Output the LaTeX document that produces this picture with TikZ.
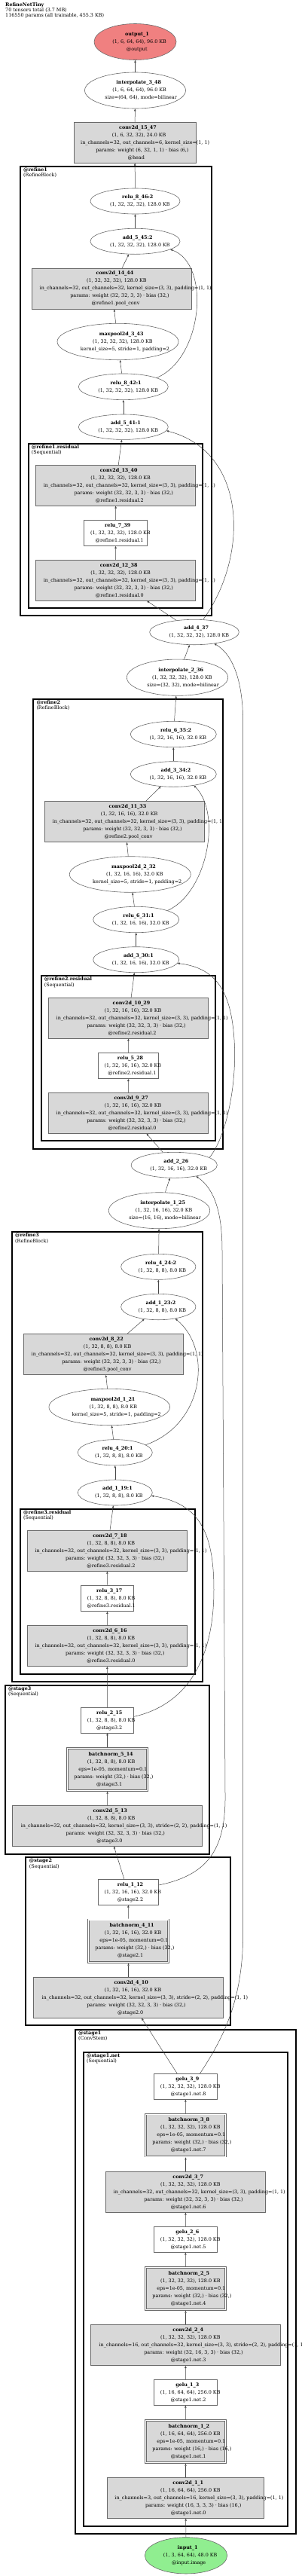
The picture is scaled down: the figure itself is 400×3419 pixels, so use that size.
\documentclass[tikz,border=0pt]{standalone}
\usepackage{fontspec}
\setmainfont{DejaVu Serif}
\usetikzlibrary{arrows.meta,shapes.geometric}
\definecolor{lineg}{RGB}{70,70,70}
\definecolor{boxline}{RGB}{105,105,105}
\definecolor{opfill}{RGB}{216,216,216}
\definecolor{outfill}{RGB}{240,128,128}
\definecolor{infill}{RGB}{144,238,144}
\newcommand{\gvfont}{\fontsize{6.4}{10}\selectfont}
% graphviz sets each line from the left edge it expected, so it runs over to the right
\newcommand{\gv}[1]{\makebox[0.84\width][l]{#1}}
\tikzset{
  oval/.style={ellipse, draw=boxline, fill=white, line width=0.6pt, inner sep=0pt,
              font=\gvfont, align=center},
  opbox/.style={rectangle, draw=boxline, fill=opfill, line width=0.6pt, inner sep=0pt,
              font=\gvfont, align=center},
  actbox/.style={opbox, fill=white},
  normbox/.style={opbox, double=white, double distance=1.2pt, outer sep=1.2pt},
  grp/.style={draw=black, line width=2pt},
  grplabel/.style={anchor=north west, inner sep=0pt, align=left,
              font=\fontsize{6.4}{7.3}\selectfont},
  flow/.style={-{Triangle[length=3pt,width=2.4pt]}, draw=lineg, line width=0.5pt},
}

\begin{document}
\begin{tikzpicture}[x=1pt,y=-1pt]
    \useasboundingbox (0,0) rectangle (400,3419);
    \node[grplabel] (title) at (7,3)
      {\textbf{RefineNetTiny}\\70 tensors total (3.7 MB)\\116550 params (all trainable, 455.3 KB)};

    % module boxes
    \draw[grp] (27,221) rectangle (280.7,817.3);
    \node[grplabel] (lrefine1) at (31,222.5) {\textbf{@refine1}\\(RefineBlock)};
    \draw[grp] (37.7,588.7) rectangle (269.3,807);
    \node[grplabel] (lrefine1res) at (41.7,590.2) {\textbf{@refine1.residual}\\(Sequential)};
    \draw[grp] (43.7,927.7) rectangle (296.3,1524.7);
    \node[grplabel] (lrefine2) at (48.3,929.2) {\textbf{@refine2}\\(RefineBlock)};
    \draw[grp] (54.7,1295.3) rectangle (286.3,1514);
    \node[grplabel] (lrefine2res) at (58.7,1296.8) {\textbf{@refine2.residual}\\(Sequential)};
    \draw[grp] (16,1635.3) rectangle (269,2232.3);
    \node[grplabel] (lrefine3) at (20,1636.8) {\textbf{@refine3}\\(RefineBlock)};
    \draw[grp] (26.7,2002.7) rectangle (258.7,2221.7);
    \node[grplabel] (lrefine3res) at (31,2004.2) {\textbf{@refine3.residual}\\(Sequential)};
    \draw[grp] (6.7,2236.7) rectangle (278.3,2460.7);
    \node[grplabel] (lstage3) at (11,2238.2) {\textbf{@stage3}\\(Sequential)};
    \draw[grp] (34.3,2465.3) rectangle (305.7,2688.3);
    \node[grplabel] (lstage2) at (38.7,2466.8) {\textbf{@stage2}\\(Sequential)};
    \draw[grp] (99.7,2693.7) rectangle (393.3,3363.3);
    \node[grplabel] (lstage1) at (104,2695.2) {\textbf{@stage1}\\(ConvStem)};
    \draw[grp] (111,2723.7) rectangle (382.3,3353);
    \node[grplabel] (lstage1net) at (115,2725.2) {\textbf{@stage1.net}\\(Sequential)};

    % head
    \node[oval, fill=outfill, minimum width=109, minimum height=48] (out) at (179.5,55.5)
      {\gv{\textbf{output\_1}}\\\gv{(1, 6, 64, 64), 96.0 KB}\\\gv{@output}};
    \node[oval, minimum width=134, minimum height=48] (interp48) at (179.5,120)
      {\gv{\textbf{interpolate\_3\_48}}\\\gv{(1, 6, 64, 64), 96.0 KB}\\\gv{size=(64, 64), mode=bilinear}};
    \node[opbox, minimum width=162, minimum height=54] (conv47) at (179,189.3)
      {\gv{\textbf{conv2d\_15\_47}}\\\gv{(1, 6, 32, 32), 24.0 KB}\\\gv{in\_channels=32, out\_channels=6, kernel\_size=(1, 1)}\\\gv{params: weight (6, 32, 1, 1) · bias (6,)}\\\gv{@head}};

    % refine1
    \node[oval, minimum width=119, minimum height=34] (relu46) at (179.5,267)
      {\gv{\textbf{relu\_8\_46:2}}\\\gv{(1, 32, 32, 32), 128.0 KB}};
    \node[oval, minimum width=119, minimum height=34] (add45) at (179.5,320.3)
      {\gv{\textbf{add\_5\_45:2}}\\\gv{(1, 32, 32, 32), 128.0 KB}};
    \node[opbox, minimum width=212.4, minimum height=54] (conv44) at (148.5,383.3)
      {\gv{\textbf{conv2d\_14\_44}}\\\gv{(1, 32, 32, 32), 128.0 KB}\\\gv{in\_channels=32, out\_channels=32, kernel\_size=(3, 3), padding=(1, 1)}\\\gv{params: weight (32, 32, 3, 3) · bias (32,)}\\\gv{@refine1.pool\_conv}};
    \node[oval, minimum width=161, minimum height=48.4] (pool43) at (156.5,453.5)
      {\gv{\textbf{maxpool2d\_3\_43}}\\\gv{(1, 32, 32, 32), 128.0 KB}\\\gv{kernel\_size=5, stride=1, padding=2}};
    \node[oval, minimum width=119, minimum height=34.7] (relu42) at (163.8,513.3)
      {\gv{\textbf{relu\_8\_42:1}}\\\gv{(1, 32, 32, 32), 128.0 KB}};
    \node[oval, minimum width=119, minimum height=33.4] (add41) at (163.8,566.7)
      {\gv{\textbf{add\_5\_41:1}}\\\gv{(1, 32, 32, 32), 128.0 KB}};
    \node[opbox, minimum width=212, minimum height=54] (conv40) at (153.7,644.2)
      {\gv{\textbf{conv2d\_13\_40}}\\\gv{(1, 32, 32, 32), 128.0 KB}\\\gv{in\_channels=32, out\_channels=32, kernel\_size=(3, 3), padding=(1, 1)}\\\gv{params: weight (32, 32, 3, 3) · bias (32,)}\\\gv{@refine1.residual.2}};
    \node[actbox, minimum width=84.4, minimum height=34.4] (relu39) at (153.5,707.3)
      {\gv{\textbf{relu\_7\_39}}\\\gv{(1, 32, 32, 32), 128.0 KB}\\\gv{@refine1.residual.1}};
    \node[opbox, minimum width=212, minimum height=54] (conv38) at (153.7,770.3)
      {\gv{\textbf{conv2d\_12\_38}}\\\gv{(1, 32, 32, 32), 128.0 KB}\\\gv{in\_channels=32, out\_channels=32, kernel\_size=(3, 3), padding=(1, 1)}\\\gv{params: weight (32, 32, 3, 3) · bias (32,)}\\\gv{@refine1.residual.0}};
    \node[oval, minimum width=118.7, minimum height=33.4] (add37) at (258,839)
      {\gv{\textbf{add\_4\_37}}\\\gv{(1, 32, 32, 32), 128.0 KB}};
    \node[oval, minimum width=134.4, minimum height=48.3] (interp36) at (235.5,899.2)
      {\gv{\textbf{interpolate\_2\_36}}\\\gv{(1, 32, 32, 32), 128.0 KB}\\\gv{size=(32, 32), mode=bilinear}};

    % refine2
    \node[oval, minimum width=114, minimum height=34.4] (relu35) at (230.3,974.5)
      {\gv{\textbf{relu\_6\_35:2}}\\\gv{(1, 32, 16, 16), 32.0 KB}};
    \node[oval, minimum width=114, minimum height=33.6] (add34) at (230.3,1027.5)
      {\gv{\textbf{add\_3\_34:2}}\\\gv{(1, 32, 16, 16), 32.0 KB}};
    \node[opbox, minimum width=212.4, minimum height=54] (conv33) at (165.5,1090.7)
      {\gv{\textbf{conv2d\_11\_33}}\\\gv{(1, 32, 16, 16), 32.0 KB}\\\gv{in\_channels=32, out\_channels=32, kernel\_size=(3, 3), padding=(1, 1)}\\\gv{params: weight (32, 32, 3, 3) · bias (32,)}\\\gv{@refine2.pool\_conv}};
    \node[oval, minimum width=161, minimum height=47.6] (pool32) at (172.8,1160.5)
      {\gv{\textbf{maxpool2d\_2\_32}}\\\gv{(1, 32, 16, 16), 32.0 KB}\\\gv{kernel\_size=5, stride=1, padding=2}};
    \node[oval, minimum width=114, minimum height=34.4] (relu31) at (180.7,1220.5)
      {\gv{\textbf{relu\_6\_31:1}}\\\gv{(1, 32, 16, 16), 32.0 KB}};
    \node[oval, minimum width=114, minimum height=34] (add30) at (180.7,1273.7)
      {\gv{\textbf{add\_3\_30:1}}\\\gv{(1, 32, 16, 16), 32.0 KB}};
    \node[opbox, minimum width=212.4, minimum height=54] (conv29) at (170.5,1351.3)
      {\gv{\textbf{conv2d\_10\_29}}\\\gv{(1, 32, 16, 16), 32.0 KB}\\\gv{in\_channels=32, out\_channels=32, kernel\_size=(3, 3), padding=(1, 1)}\\\gv{params: weight (32, 32, 3, 3) · bias (32,)}\\\gv{@refine2.residual.2}};
    \node[actbox, minimum width=80.7, minimum height=34.4] (relu28) at (170.3,1414.5)
      {\gv{\textbf{relu\_5\_28}}\\\gv{(1, 32, 16, 16), 32.0 KB}\\\gv{@refine2.residual.1}};
    \node[opbox, minimum width=212.4, minimum height=54] (conv27) at (170.5,1477.3)
      {\gv{\textbf{conv2d\_9\_27}}\\\gv{(1, 32, 16, 16), 32.0 KB}\\\gv{in\_channels=32, out\_channels=32, kernel\_size=(3, 3), padding=(1, 1)}\\\gv{params: weight (32, 32, 3, 3) · bias (32,)}\\\gv{@refine2.residual.0}};
    \node[oval, minimum width=114.3, minimum height=34] (add26) at (231.2,1546.3)
      {\gv{\textbf{add\_2\_26}}\\\gv{(1, 32, 16, 16), 32.0 KB}};
    \node[oval, minimum width=134.4, minimum height=48] (interp25) at (211.5,1606.7)
      {\gv{\textbf{interpolate\_1\_25}}\\\gv{(1, 32, 16, 16), 32.0 KB}\\\gv{size=(16, 16), mode=bilinear}};

    % refine3
    \node[oval, minimum width=99.3, minimum height=34] (relu24) at (210.3,1681.3)
      {\gv{\textbf{relu\_4\_24:2}}\\\gv{(1, 32, 8, 8), 8.0 KB}};
    \node[oval, minimum width=99.3, minimum height=34.4] (add23) at (210.3,1734.5)
      {\gv{\textbf{add\_1\_23:2}}\\\gv{(1, 32, 8, 8), 8.0 KB}};
    \node[opbox, minimum width=212.4, minimum height=54.4] (conv22) at (137.5,1797.5)
      {\gv{\textbf{conv2d\_8\_22}}\\\gv{(1, 32, 8, 8), 8.0 KB}\\\gv{in\_channels=32, out\_channels=32, kernel\_size=(3, 3), padding=(1, 1)}\\\gv{params: weight (32, 32, 3, 3) · bias (32,)}\\\gv{@refine3.pool\_conv}};
    \node[oval, minimum width=160.7, minimum height=48.4] (pool21) at (145.3,1867.5)
      {\gv{\textbf{maxpool2d\_1\_21}}\\\gv{(1, 32, 8, 8), 8.0 KB}\\\gv{kernel\_size=5, stride=1, padding=2}};
    \node[oval, minimum width=99, minimum height=34.3] (relu20) at (152.8,1927.8)
      {\gv{\textbf{relu\_4\_20:1}}\\\gv{(1, 32, 8, 8), 8.0 KB}};
    \node[oval, minimum width=99, minimum height=34] (add19) at (152.8,1981)
      {\gv{\textbf{add\_1\_19:1}}\\\gv{(1, 32, 8, 8), 8.0 KB}};
    \node[opbox, minimum width=212.7, minimum height=54.3] (conv18) at (142.3,2058.2)
      {\gv{\textbf{conv2d\_7\_18}}\\\gv{(1, 32, 8, 8), 8.0 KB}\\\gv{in\_channels=32, out\_channels=32, kernel\_size=(3, 3), padding=(1, 1)}\\\gv{params: weight (32, 32, 3, 3) · bias (32,)}\\\gv{@refine3.residual.2}};
    \node[actbox, minimum width=70.4, minimum height=34.7] (relu17) at (142.5,2121.3)
      {\gv{\textbf{relu\_3\_17}}\\\gv{(1, 32, 8, 8), 8.0 KB}\\\gv{@refine3.residual.1}};
    \node[opbox, minimum width=212.7, minimum height=54.3] (conv16) at (142.3,2184.5)
      {\gv{\textbf{conv2d\_6\_16}}\\\gv{(1, 32, 8, 8), 8.0 KB}\\\gv{in\_channels=32, out\_channels=32, kernel\_size=(3, 3), padding=(1, 1)}\\\gv{params: weight (32, 32, 3, 3) · bias (32,)}\\\gv{@refine3.residual.0}};

    % stage3
    \node[actbox, minimum width=70.4, minimum height=33.4] (relu15) at (142.5,2283.3)
      {\gv{\textbf{relu\_2\_15}}\\\gv{(1, 32, 8, 8), 8.0 KB}\\\gv{@stage3.2}};
    \node[normbox, minimum width=106, minimum height=56] (bn14) at (142.5,2348.5)
      {\gv{\textbf{batchnorm\_5\_14}}\\\gv{(1, 32, 8, 8), 8.0 KB}\\\gv{eps=1e-05, momentum=0.1}\\\gv{params: weight (32,) · bias (32,)}\\\gv{@stage3.1}};
    \node[opbox, minimum width=252, minimum height=54] (conv13) at (142.7,2423.3)
      {\gv{\textbf{conv2d\_5\_13}}\\\gv{(1, 32, 8, 8), 8.0 KB}\\\gv{in\_channels=32, out\_channels=32, kernel\_size=(3, 3), stride=(2, 2), padding=(1, 1)}\\\gv{params: weight (32, 32, 3, 3) · bias (32,)}\\\gv{@stage3.0}};

    % stage2
    \node[actbox, minimum width=80.7, minimum height=34] (relu12) at (170.3,2511.3)
      {\gv{\textbf{relu\_1\_12}}\\\gv{(1, 32, 16, 16), 32.0 KB}\\\gv{@stage2.2}};
    \node[normbox, minimum width=106, minimum height=56.6] (bn11) at (170.5,2576.2)
      {\gv{\textbf{batchnorm\_4\_11}}\\\gv{(1, 32, 16, 16), 32.0 KB}\\\gv{eps=1e-05, momentum=0.1}\\\gv{params: weight (32,) · bias (32,)}\\\gv{@stage2.1}};
    \node[opbox, minimum width=252.4, minimum height=54] (conv10) at (170.5,2651.3)
      {\gv{\textbf{conv2d\_4\_10}}\\\gv{(1, 32, 16, 16), 32.0 KB}\\\gv{in\_channels=32, out\_channels=32, kernel\_size=(3, 3), stride=(2, 2), padding=(1, 1)}\\\gv{params: weight (32, 32, 3, 3) · bias (32,)}\\\gv{@stage2.0}};

    % stage1
    \node[actbox, minimum width=84, minimum height=34] (gelu9) at (246.3,2769.3)
      {\gv{\textbf{gelu\_3\_9}}\\\gv{(1, 32, 32, 32), 128.0 KB}\\\gv{@stage1.net.8}};
    \node[normbox, minimum width=106, minimum height=56] (bn8) at (246.5,2834.2)
      {\gv{\textbf{batchnorm\_3\_8}}\\\gv{(1, 32, 32, 32), 128.0 KB}\\\gv{eps=1e-05, momentum=0.1}\\\gv{params: weight (32,) · bias (32,)}\\\gv{@stage1.net.7}};
    \node[opbox, minimum width=212.4, minimum height=54] (conv7) at (246.5,2909.3)
      {\gv{\textbf{conv2d\_3\_7}}\\\gv{(1, 32, 32, 32), 128.0 KB}\\\gv{in\_channels=32, out\_channels=32, kernel\_size=(3, 3), padding=(1, 1)}\\\gv{params: weight (32, 32, 3, 3) · bias (32,)}\\\gv{@stage1.net.6}};
    \node[actbox, minimum width=84, minimum height=34] (gelu6) at (246.3,2972.3)
      {\gv{\textbf{gelu\_2\_6}}\\\gv{(1, 32, 32, 32), 128.0 KB}\\\gv{@stage1.net.5}};
    \node[normbox, minimum width=106, minimum height=56] (bn5) at (246.5,3037.5)
      {\gv{\textbf{batchnorm\_2\_5}}\\\gv{(1, 32, 32, 32), 128.0 KB}\\\gv{eps=1e-05, momentum=0.1}\\\gv{params: weight (32,) · bias (32,)}\\\gv{@stage1.net.4}};
    \node[opbox, minimum width=252.4, minimum height=54.4] (conv4) at (246.5,3112.5)
      {\gv{\textbf{conv2d\_2\_4}}\\\gv{(1, 32, 32, 32), 128.0 KB}\\\gv{in\_channels=16, out\_channels=32, kernel\_size=(3, 3), stride=(2, 2), padding=(1, 1)}\\\gv{params: weight (32, 16, 3, 3) · bias (32,)}\\\gv{@stage1.net.3}};
    \node[actbox, minimum width=84, minimum height=34] (gelu3) at (246.3,3175.3)
      {\gv{\textbf{gelu\_1\_3}}\\\gv{(1, 16, 64, 64), 256.0 KB}\\\gv{@stage1.net.2}};
    \node[normbox, minimum width=106, minimum height=56] (bn2) at (246.5,3240.5)
      {\gv{\textbf{batchnorm\_1\_2}}\\\gv{(1, 16, 64, 64), 256.0 KB}\\\gv{eps=1e-05, momentum=0.1}\\\gv{params: weight (16,) · bias (16,)}\\\gv{@stage1.net.1}};
    \node[opbox, minimum width=208.4, minimum height=54] (conv1) at (246.5,3315.3)
      {\gv{\textbf{conv2d\_1\_1}}\\\gv{(1, 16, 64, 64), 256.0 KB}\\\gv{in\_channels=3, out\_channels=16, kernel\_size=(3, 3), padding=(1, 1)}\\\gv{params: weight (16, 3, 3, 3) · bias (16,)}\\\gv{@stage1.net.0}};
    \node[oval, fill=infill, minimum width=109.3, minimum height=48.3] (inp) at (247,3391.8)
      {\gv{\textbf{input\_1}}\\\gv{(1, 3, 64, 64), 48.0 KB}\\\gv{@input.image}};

    % data flow
    \draw[flow] (inp) -- (conv1);
    \draw[flow] (conv1) -- (bn2);
    \draw[flow] (bn2) -- (gelu3);
    \draw[flow] (gelu3) -- (conv4);
    \draw[flow] (conv4) -- (bn5);
    \draw[flow] (bn5) -- (gelu6);
    \draw[flow] (gelu6) -- (conv7);
    \draw[flow] (conv7) -- (bn8);
    \draw[flow] (bn8) -- (gelu9);
    \draw[flow] (gelu9) -- (conv10);
    \draw[flow] (conv10) -- (bn11);
    \draw[flow] (bn11) -- (relu12);
    \draw[flow] (relu12) -- (conv13);
    \draw[flow] (conv13) -- (bn14);
    \draw[flow] (bn14) -- (relu15);
    \draw[flow] (relu15) -- (conv16);
    \draw[flow] (conv16) -- (relu17);
    \draw[flow] (relu17) -- (conv18);
    \draw[flow] (conv18) -- (add19);
    \draw[flow] (add19) -- (relu20);
    \draw[flow] (relu20) -- (pool21);
    \draw[flow] (pool21) -- (conv22);
    \draw[flow] (conv22) -- (add23);
    \draw[flow] (add23) -- (relu24);
    \draw[flow] (relu24) -- (interp25);
    \draw[flow] (interp25) -- (add26);
    \draw[flow] (add26) -- (conv27);
    \draw[flow] (conv27) -- (relu28);
    \draw[flow] (relu28) -- (conv29);
    \draw[flow] (conv29) -- (add30);
    \draw[flow] (add30) -- (relu31);
    \draw[flow] (relu31) -- (pool32);
    \draw[flow] (pool32) -- (conv33);
    \draw[flow] (conv33) -- (add34);
    \draw[flow] (add34) -- (relu35);
    \draw[flow] (relu35) -- (interp36);
    \draw[flow] (interp36) -- (add37);
    \draw[flow] (add37) -- (conv38);
    \draw[flow] (conv38) -- (relu39);
    \draw[flow] (relu39) -- (conv40);
    \draw[flow] (conv40) -- (add41);
    \draw[flow] (add41) -- (relu42);
    \draw[flow] (relu42) -- (pool43);
    \draw[flow] (pool43) -- (conv44);
    \draw[flow] (conv44) -- (add45);
    \draw[flow] (add45) -- (relu46);
    \draw[flow] (relu46) -- (conv47);
    \draw[flow] (conv47) -- (interp48);
    \draw[flow] (interp48) -- (out);

    % skip connections
    \draw[flow] (gelu9.42) .. controls (300,2700) and (322.7,2650) .. (322.7,2565)
      -- (322.7,960) .. controls (322.7,895) and (305,866) .. (add37.-30);
    \draw[flow] (relu12.13) .. controls (280,2488) and (300,2450) .. (299,2380)
      -- (295,1660) .. controls (295,1610) and (285,1578) .. (add26.-27);
    \draw[flow] (relu15.8) .. controls (250,2262) and (284,2200) .. (284,2110)
      .. controls (284,2030) and (262,1995) .. (add19.-5);
    \draw[flow] (relu20.14) .. controls (272,1890) and (282,1790) .. (add23.-35);
    \draw[flow] (add26.12) .. controls (300,1510) and (315,1440) .. (311,1380)
      .. controls (307,1320) and (290,1285) .. (add30.-5);
    \draw[flow] (relu31.16) .. controls (275,1185) and (295,1080) .. (add34.-29);
    \draw[flow] (add37.55) .. controls (330,740) and (330,600) .. (add41.-5);
    \draw[flow] (relu42.15) .. controls (270,475) and (280,350) .. (add45.-13);
\end{tikzpicture}
\end{document}
